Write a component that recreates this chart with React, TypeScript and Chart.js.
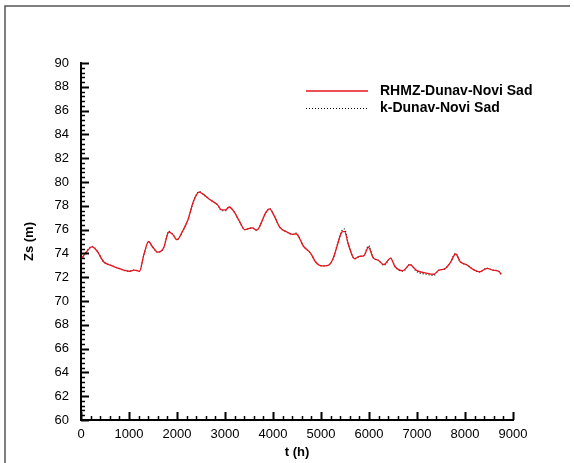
import React, { useEffect, useRef } from "react";
import { Chart, registerables } from "chart.js";

Chart.register(...registerables);

const tHours = [0, 90, 230, 335, 470, 625, 780, 1010, 1120, 1220, 1310, 1410, 1480, 1600, 1720, 1830, 1910, 2000, 2115, 2230, 2345, 2460, 2535, 2690, 2840, 2930, 3010, 3085, 3180, 3300, 3410, 3565, 3660, 3755, 3845, 3930, 4020, 4140, 4290, 4405, 4480, 4635, 4785, 4885, 5015, 5150, 5245, 5345, 5435, 5490, 5570, 5700, 5800, 5890, 5990, 6085, 6200, 6310, 6450, 6540, 6710, 6850, 7000, 7190, 7345, 7460, 7575, 7690, 7805, 7900, 8035, 8150, 8305, 8460, 8575, 8700, 8755];

const zsRhmz = [73.5, 74.0, 74.55, 74.2, 73.3, 73.0, 72.75, 72.5, 72.6, 72.5, 73.9, 75.0, 74.6, 74.1, 74.45, 75.8, 75.6, 75.15, 75.85, 76.85, 78.4, 79.15, 79.0, 78.5, 78.1, 77.65, 77.65, 77.9, 77.55, 76.7, 76.0, 76.15, 75.95, 76.55, 77.4, 77.75, 77.2, 76.2, 75.8, 75.6, 75.65, 74.6, 74.0, 73.3, 72.95, 73.0, 73.5, 74.75, 75.8, 75.85, 74.75, 73.55, 73.75, 73.8, 74.5, 73.65, 73.4, 73.05, 73.6, 72.9, 72.55, 73.05, 72.55, 72.35, 72.25, 72.6, 72.7, 73.2, 73.95, 73.3, 73.05, 72.7, 72.45, 72.75, 72.6, 72.5, 72.25];

const zsModel = [73.45, 74.0, 74.6, 74.2, 73.3, 73.0, 72.75, 72.5, 72.6, 72.5, 73.9, 75.0, 74.6, 74.1, 74.45, 75.85, 75.6, 75.15, 75.85, 76.85, 78.4, 79.2, 79.0, 78.5, 78.1, 77.6, 77.6, 77.9, 77.55, 76.7, 76.0, 76.15, 75.95, 76.55, 77.4, 77.75, 77.2, 76.2, 75.8, 75.6, 75.7, 74.6, 74.0, 73.3, 72.95, 73.0, 73.5, 74.8, 75.9, 76.05, 74.8, 73.55, 73.75, 73.8, 74.65, 73.65, 73.4, 73.0, 73.6, 72.9, 72.5, 73.05, 72.45, 72.25, 72.15, 72.6, 72.7, 73.2, 74.0, 73.3, 73.05, 72.7, 72.45, 72.75, 72.6, 72.5, 72.25];

const seriesNames = ["RHMZ-Dunav-Novi Sad", "k-Dunav-Novi Sad"];
const xTitle = "t (h)";
const yTitle = "Zs (m)";

const FONT = "'Liberation Sans', Arial, Helvetica, sans-serif";
const RED = "#e8141c";

const decorPlugin = {
  id: "decor",
  afterDraw(chart: any) {
    const { ctx, chartArea, scales } = chart;
    const x = scales.x;
    const y = scales.y;
    ctx.save();
    ctx.strokeStyle = "#000";
    for (let i = 0; i <= 75; i++) {
      const v = 60 + i * 0.4;
      const py = Math.round(y.getPixelForValue(v)) + 0.5;
      const major = i % 5 === 0;
      ctx.lineWidth = major ? 2 : 1.5;
      ctx.beginPath();
      ctx.moveTo(chartArea.left, py);
      ctx.lineTo(chartArea.left + (major ? 8 : 4), py);
      ctx.stroke();
    }
    for (let i = 0; i <= 45; i++) {
      const v = i * 200;
      const px = Math.round(x.getPixelForValue(v)) + 0.5;
      const major = i % 5 === 0;
      ctx.lineWidth = major ? 2 : 1.5;
      ctx.beginPath();
      ctx.moveTo(px, chartArea.bottom);
      ctx.lineTo(px, chartArea.bottom - (major ? 8 : 4));
      ctx.stroke();
    }
    // legend
    ctx.font = "bold 14px " + FONT;
    ctx.textBaseline = "middle";
    ctx.textAlign = "left";
    ctx.fillStyle = "#000";
    ctx.setLineDash([]);
    ctx.lineWidth = 1.5;
    ctx.strokeStyle = RED;
    ctx.beginPath();
    ctx.moveTo(306, 91);
    ctx.lineTo(368, 91);
    ctx.stroke();
    ctx.fillText(seriesNames[0], 380, 91);
    ctx.strokeStyle = "#000";
    ctx.lineWidth = 1;
    ctx.setLineDash([1, 2]);
    ctx.beginPath();
    ctx.moveTo(306, 108.5);
    ctx.lineTo(368, 108.5);
    ctx.stroke();
    ctx.setLineDash([]);
    ctx.fillText(seriesNames[1], 380, 108);
    // frame
    ctx.strokeStyle = "#555";
    ctx.lineWidth = 1.5;
    ctx.beginPath();
    ctx.moveTo(5, 463);
    ctx.lineTo(5, 6);
    ctx.lineTo(570, 6);
    ctx.stroke();
    ctx.restore();
  },
};

export default function App() {
  const ref = useRef<HTMLCanvasElement | null>(null);
  useEffect(() => {
    if (!ref.current) return;
    const chart = new Chart(ref.current, {
      type: "line",
      data: {
        datasets: [
          {
            label: seriesNames[0],
            data: tHours.map((t, i) => ({ x: t, y: zsRhmz[i] })),
            borderColor: RED,
            borderWidth: 1.3,
            pointRadius: 0,
            cubicInterpolationMode: "monotone",
            fill: false,
          },
          {
            label: seriesNames[1],
            data: tHours.map((t, i) => ({ x: t, y: zsModel[i] })),
            borderColor: "#000",
            borderWidth: 1.2,
            borderDash: [1, 2],
            pointRadius: 0,
            cubicInterpolationMode: "monotone",
            fill: false,
          },
        ],
      },
      options: {
        animation: false,
        responsive: false,
        layout: { padding: { left: 0, top: 63, right: 61, bottom: 0 } },
        plugins: { legend: { display: false }, tooltip: { enabled: false } },
        scales: {
          x: {
            type: "linear",
            min: 0,
            max: 9000,
            afterFit: (s: any) => {
              s.height = 43;
            },
            grid: { display: false, drawTicks: false },
            border: { display: true, color: "#000", width: 2 },
            ticks: {
              stepSize: 1000,
              padding: 7,
              color: "#000",
              font: { family: FONT, size: 13 },
              maxRotation: 0,
              callback: (v: any) => String(v),
            },
            title: {
              display: true,
              text: xTitle,
              color: "#000",
              font: { family: FONT, size: 13, weight: "bold" },
              padding: { top: 0, bottom: 3 },
            },
          },
          y: {
            type: "linear",
            min: 60,
            max: 90,
            afterFit: (s: any) => {
              s.width = 81;
            },
            grid: { display: false, drawTicks: false },
            border: { display: true, color: "#000", width: 2 },
            ticks: {
              stepSize: 2,
              padding: 12,
              color: "#000",
              font: { family: FONT, size: 13 },
              callback: (v: any) => String(v),
            },
            title: {
              display: true,
              text: yTitle,
              color: "#000",
              font: { family: FONT, size: 13, weight: "bold" },
              padding: { top: 22, bottom: 0 },
            },
          },
        },
      },
      plugins: [decorPlugin],
    });
    return () => chart.destroy();
  }, []);
  return (
    <div style={{ position: "fixed", left: 0, top: 0, width: 574, height: 463, background: "#fff" }}>
      <canvas ref={ref} width={574} height={463} />
    </div>
  );
}
